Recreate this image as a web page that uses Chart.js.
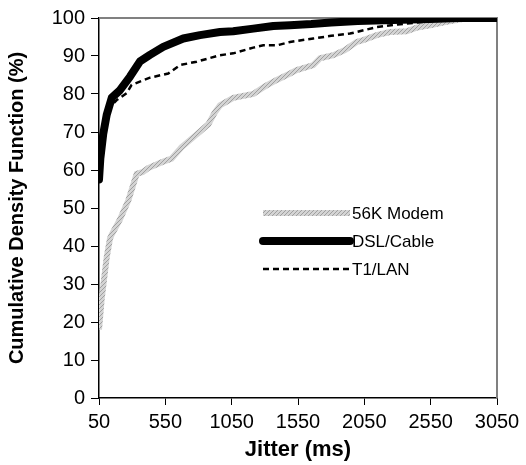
<!DOCTYPE html>
<html>
<head>
<meta charset="utf-8">
<script src="https://cdn.jsdelivr.net/npm/chart.js@4.4.1/dist/chart.umd.min.js"></script>
<style>
html,body{margin:0;padding:0;background:#fff;}
#wrap{width:526px;height:465px;}
</style>
</head>
<body>
<div id="wrap"><canvas id="c" width="526" height="465"></canvas></div>
<script>
// ---- data ----
const seriesNames = ["56K Modem", "DSL/Cable", "T1/LAN"];
const xTicks = [50, 550, 1050, 1550, 2050, 2550, 3050];
const yTicks = [0, 10, 20, 30, 40, 50, 60, 70, 80, 90, 100];

const modemX = [50, 70, 108, 133, 146, 208, 271, 334, 380, 421, 520, 597, 673, 774, 874, 920, 962, 1062, 1213, 1300, 1390, 1490, 1540, 1665, 1716, 1816, 1900, 1992, 2042, 2143, 2243, 2369, 2450, 2545, 2670, 2800, 3050];
const modemY = [18, 26, 37, 42, 43, 47, 52, 59, 59.5, 60.5, 62, 63, 66, 69, 72, 75, 77, 79, 80, 82, 83.7, 85.4, 86.3, 87.6, 89.4, 90.2, 91.5, 93.7, 94.2, 95.5, 96.3, 96.5, 97.5, 98.1, 99, 99.8, 100];

const dslX = [50, 60, 82, 108, 146, 208, 284, 359, 434, 534, 685, 811, 962, 1062, 1213, 1364, 1490, 1650, 1800, 2000, 2200, 2400, 2600, 2750, 2900, 3050];
const dslY = [57.5, 63, 69.5, 74.5, 79, 81, 84.6, 88.6, 90.3, 92.4, 94.6, 95.5, 96.3, 96.5, 97.2, 97.9, 98.1, 98.4, 98.8, 99.2, 99.4, 99.6, 99.8, 100, 100, 100];

const t1X = [50, 80, 120, 183, 258, 296, 434, 572, 660, 786, 962, 1062, 1213, 1288, 1390, 1490, 1665, 1800, 1942, 2143, 2300, 2500, 2700, 3050];
const t1Y = [60, 70, 76, 78.4, 80.2, 82.4, 84.3, 85.4, 87.6, 88.5, 90.2, 90.7, 92.2, 92.8, 92.8, 93.7, 94.6, 95.3, 95.9, 97.6, 98.3, 99, 99.6, 100];

const toPts = (xs, ys) => xs.map((x, i) => ({x: x, y: ys[i]}));

// hatched grey pattern for 56K Modem
function makePattern() {
  const p = document.createElement('canvas');
  p.width = 4; p.height = 4;
  const g = p.getContext('2d');
  g.fillStyle = '#d4d4d4';
  g.fillRect(0, 0, 4, 4);
  g.fillStyle = '#a0a0a0';
  for (let i = 0; i < 4; i++) g.fillRect(i, 3 - i, 1, 1);
  return g.createPattern(p, 'repeat');
}
const modemStroke = makePattern();

const FONT = '"Liberation Sans", Arial, sans-serif';

const frameAndLegend = {
  id: 'frameAndLegend',
  beforeDatasetsDraw(chart) {
    const {ctx, chartArea: a} = chart;
    ctx.save();
    ctx.strokeStyle = '#808080';
    ctx.lineWidth = 2;
    ctx.beginPath();
    ctx.moveTo(a.left, a.top);
    ctx.lineTo(a.right, a.top);
    ctx.lineTo(a.right, a.bottom);
    ctx.stroke();
    ctx.restore();
  },
  afterDraw(chart) {
    const {ctx} = chart;
    const ds = chart.data.datasets;
    const x0 = 263, x1 = 350, ys = [213, 241, 269];
    ctx.save();
    ds.forEach((d, i) => {
      ctx.beginPath();
      ctx.strokeStyle = d.borderColor;
      ctx.lineWidth = d.borderWidth;
      ctx.lineCap = d.borderCapStyle || 'butt';
      ctx.setLineDash(d.borderDash || []);
      ctx.moveTo(x0, ys[i]);
      ctx.lineTo(x1, ys[i]);
      ctx.stroke();
      ctx.setLineDash([]);
      ctx.fillStyle = '#000';
      ctx.font = '17px ' + FONT;
      ctx.textBaseline = 'middle';
      ctx.textAlign = 'left';
      ctx.fillText(d.label, 352, ys[i] + 1);
    });
    ctx.restore();
  }
};

new Chart(document.getElementById('c'), {
  type: 'line',
  data: {
    datasets: [
      {label: seriesNames[0], data: toPts(modemX, modemY), borderColor: modemStroke, borderWidth: 6, order: 3},
      {label: seriesNames[1], data: toPts(dslX, dslY), borderColor: '#000', borderWidth: 8, borderCapStyle: 'round', borderJoinStyle: 'round', order: 1},
      {label: seriesNames[2], data: toPts(t1X, t1Y), borderColor: '#000', borderWidth: 2.5, borderDash: [6, 4], order: 2}
    ]
  },
  options: {
    responsive: false,
    animation: false,
    events: [],
    layout: {padding: {left: 0, right: 29, top: 16, bottom: 0}},
    elements: {point: {radius: 0}, line: {tension: 0}},
    plugins: {legend: {display: false}, tooltip: {enabled: false}},
    scales: {
      x: {
        type: 'linear', min: 50, max: 3050,
        afterBuildTicks: s => { s.ticks = xTicks.map(v => ({value: v})); },
        afterFit: s => { s.height = 67; },
        grid: {display: true, drawOnChartArea: false, drawTicks: true, tickLength: 7, color: '#000', lineWidth: 1},
        border: {display: true, color: '#000', width: 1.5},
        ticks: {color: '#000', font: {size: 20, family: FONT}, padding: 5, maxRotation: 0, autoSkip: false, callback: v => String(v)},
        title: {display: true, text: 'Jitter (ms)', color: '#000', font: {size: 22, weight: 'bold', family: FONT}, padding: {top: 0, bottom: 2}}
      },
      y: {
        min: 0, max: 100,
        afterBuildTicks: s => { s.ticks = yTicks.map(v => ({value: v})); },
        afterFit: s => { s.width = 99; },
        grid: {display: true, drawOnChartArea: false, drawTicks: true, tickLength: 8, color: '#000', lineWidth: 1},
        border: {display: true, color: '#000', width: 1.5},
        ticks: {color: '#000', font: {size: 20, family: FONT}, padding: 6, autoSkip: false, callback: v => String(v)},
        title: {display: true, text: 'Cumulative Density Function (%)', color: '#000', font: {size: 20, weight: 'bold', family: FONT}, padding: {top: 5, bottom: 0}}
      }
    }
  },
  plugins: [frameAndLegend]
});
</script>
</body>
</html>
